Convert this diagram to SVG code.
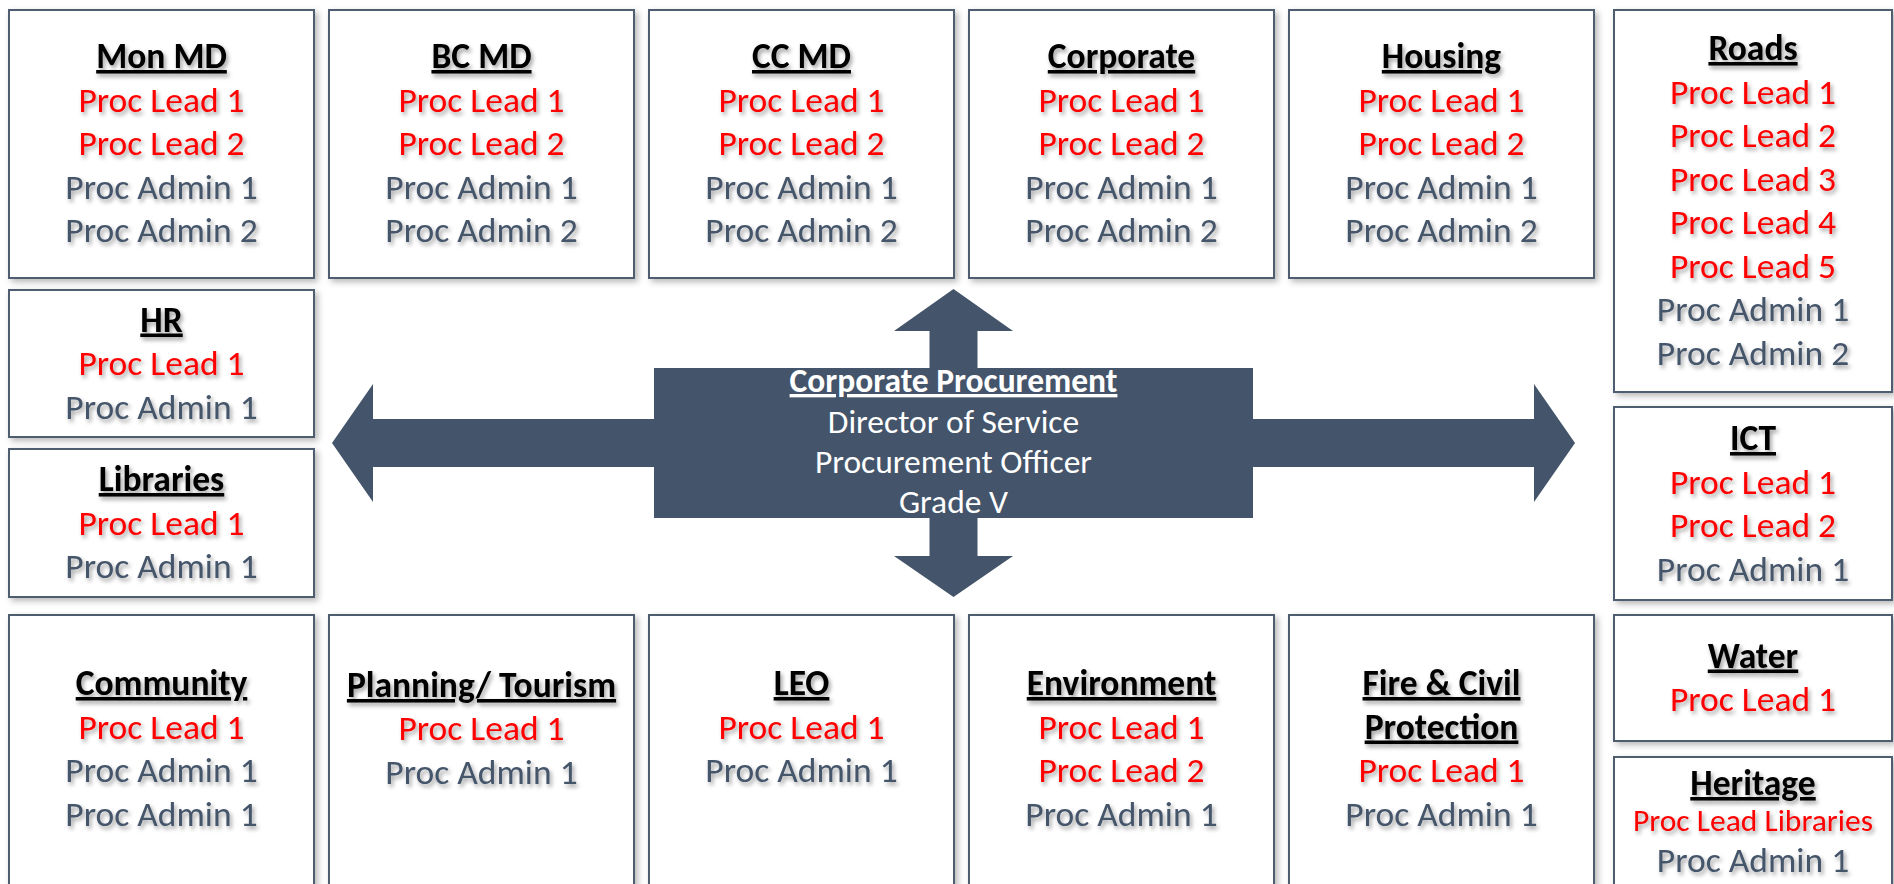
<svg xmlns="http://www.w3.org/2000/svg" width="1894" height="884" viewBox="0 0 1894 884">
  <defs>
    <filter id="boxShadow" x="-10%" y="-10%" width="125%" height="125%">
      <feDropShadow dx="3" dy="3" stdDeviation="3" flood-color="#000" flood-opacity="0.28"/>
    </filter>
    <filter id="textShadow" x="-10%" y="-10%" width="125%" height="130%">
      <feDropShadow dx="2" dy="3" stdDeviation="2" flood-color="#000" flood-opacity="0.38"/>
    </filter>
  </defs>
  <style>
    .box { fill: #ffffff; stroke: #4f5d70; stroke-width: 2; filter: url(#boxShadow); }
    text { font-family: Carlito, Lato, "Open Sans", sans-serif; font-size: 35.5px; text-anchor: middle; }
    .hd { font-weight: bold; fill: #000000; text-decoration: underline; }
    .lead { fill: #ff0000; }
    .adm { fill: #44546a; }
    .small { font-size: 31.5px; }
    .lbl { filter: url(#textShadow); }
    .arrow { fill: #44546a; }
    .core { fill: #ffffff; font-size: 33.5px; }
    .core-hd { font-weight: bold; text-decoration: underline; }
  </style>

  <rect width="1894" height="884" fill="#ffffff"/>

  <!-- four-way arrow radiating from the central unit -->
  <g id="connectors">
    <path class="arrow" d="M332,443 L373,384 L373,419 L655,419 L655,467 L373,467 L373,502 Z"/>
    <path class="arrow" d="M1575,443 L1534,384 L1534,419 L1252,419 L1252,467 L1534,467 L1534,502 Z"/>
    <path class="arrow" d="M953.5,289 L1013,331 L977.5,331 L977.5,369 L929.5,369 L929.5,331 L894,331 Z"/>
    <path class="arrow" d="M953.5,597 L1013,556 L977.5,556 L977.5,517 L929.5,517 L929.5,556 L894,556 Z"/>
  </g>

  <g id="corporate-procurement">
    <rect class="arrow" x="654" y="368" width="599" height="150"/>
    <text class="core core-hd" x="953.5" y="392">Corporate Procurement</text>
    <text class="core" x="953.5" y="433">Director of Service</text>
    <text class="core" x="953.5" y="473">Procurement Officer</text>
    <text class="core" x="953.5" y="513">Grade V</text>
  </g>

  <!-- top row -->
  <g id="mon-md">
    <rect class="box" x="9" y="10" width="305" height="268"/>
    <g class="lbl">
      <text class="hd" x="161.5" y="68">Mon MD</text>
      <text class="lead" x="161.5" y="111.5">Proc Lead 1</text>
      <text class="lead" x="161.5" y="155">Proc Lead 2</text>
      <text class="adm" x="161.5" y="198.5">Proc Admin 1</text>
      <text class="adm" x="161.5" y="242">Proc Admin 2</text>
    </g>
  </g>

  <g id="bc-md">
    <rect class="box" x="329" y="10" width="305" height="268"/>
    <g class="lbl">
      <text class="hd" x="481.5" y="68">BC MD</text>
      <text class="lead" x="481.5" y="111.5">Proc Lead 1</text>
      <text class="lead" x="481.5" y="155">Proc Lead 2</text>
      <text class="adm" x="481.5" y="198.5">Proc Admin 1</text>
      <text class="adm" x="481.5" y="242">Proc Admin 2</text>
    </g>
  </g>

  <g id="cc-md">
    <rect class="box" x="649" y="10" width="305" height="268"/>
    <g class="lbl">
      <text class="hd" x="801.5" y="68">CC MD</text>
      <text class="lead" x="801.5" y="111.5">Proc Lead 1</text>
      <text class="lead" x="801.5" y="155">Proc Lead 2</text>
      <text class="adm" x="801.5" y="198.5">Proc Admin 1</text>
      <text class="adm" x="801.5" y="242">Proc Admin 2</text>
    </g>
  </g>

  <g id="corporate">
    <rect class="box" x="969" y="10" width="305" height="268"/>
    <g class="lbl">
      <text class="hd" x="1121.5" y="68">Corporate</text>
      <text class="lead" x="1121.5" y="111.5">Proc Lead 1</text>
      <text class="lead" x="1121.5" y="155">Proc Lead 2</text>
      <text class="adm" x="1121.5" y="198.5">Proc Admin 1</text>
      <text class="adm" x="1121.5" y="242">Proc Admin 2</text>
    </g>
  </g>

  <g id="housing">
    <rect class="box" x="1289" y="10" width="305" height="268"/>
    <g class="lbl">
      <text class="hd" x="1441.5" y="68">Housing</text>
      <text class="lead" x="1441.5" y="111.5">Proc Lead 1</text>
      <text class="lead" x="1441.5" y="155">Proc Lead 2</text>
      <text class="adm" x="1441.5" y="198.5">Proc Admin 1</text>
      <text class="adm" x="1441.5" y="242">Proc Admin 2</text>
    </g>
  </g>

  <!-- right column -->
  <g id="roads">
    <rect class="box" x="1614" y="10" width="278" height="382"/>
    <g class="lbl">
      <text class="hd" x="1753" y="60">Roads</text>
      <text class="lead" x="1753" y="103.5">Proc Lead 1</text>
      <text class="lead" x="1753" y="147">Proc Lead 2</text>
      <text class="lead" x="1753" y="190.5">Proc Lead 3</text>
      <text class="lead" x="1753" y="234">Proc Lead 4</text>
      <text class="lead" x="1753" y="277.5">Proc Lead 5</text>
      <text class="adm" x="1753" y="321">Proc Admin 1</text>
      <text class="adm" x="1753" y="364.5">Proc Admin 2</text>
    </g>
  </g>

  <g id="ict">
    <rect class="box" x="1614" y="407" width="278" height="193"/>
    <g class="lbl">
      <text class="hd" x="1753" y="450">ICT</text>
      <text class="lead" x="1753" y="493.5">Proc Lead 1</text>
      <text class="lead" x="1753" y="537">Proc Lead 2</text>
      <text class="adm" x="1753" y="580.5">Proc Admin 1</text>
    </g>
  </g>

  <g id="water">
    <rect class="box" x="1614" y="615" width="278" height="126"/>
    <g class="lbl">
      <text class="hd" x="1753" y="667.5">Water</text>
      <text class="lead" x="1753" y="711">Proc Lead 1</text>
    </g>
  </g>

  <g id="heritage">
    <rect class="box" x="1614" y="757" width="278" height="140"/>
    <g class="lbl">
      <text class="hd" x="1753" y="795">Heritage</text>
      <text class="lead small" x="1753" y="831">Proc Lead Libraries</text>
      <text class="adm" x="1753" y="872">Proc Admin 1</text>
    </g>
  </g>

  <!-- left column -->
  <g id="hr">
    <rect class="box" x="9" y="290" width="305" height="147"/>
    <g class="lbl">
      <text class="hd" x="161.5" y="331.5">HR</text>
      <text class="lead" x="161.5" y="375">Proc Lead 1</text>
      <text class="adm" x="161.5" y="418.5">Proc Admin 1</text>
    </g>
  </g>

  <g id="libraries">
    <rect class="box" x="9" y="449" width="305" height="148"/>
    <g class="lbl">
      <text class="hd" x="161.5" y="491">Libraries</text>
      <text class="lead" x="161.5" y="534.5">Proc Lead 1</text>
      <text class="adm" x="161.5" y="578">Proc Admin 1</text>
    </g>
  </g>

  <!-- bottom row -->
  <g id="community">
    <rect class="box" x="9" y="615" width="305" height="272"/>
    <g class="lbl">
      <text class="hd" x="161.5" y="695">Community</text>
      <text class="lead" x="161.5" y="738.5">Proc Lead 1</text>
      <text class="adm" x="161.5" y="782">Proc Admin 1</text>
      <text class="adm" x="161.5" y="825.5">Proc Admin 1</text>
    </g>
  </g>

  <g id="planning-tourism">
    <rect class="box" x="329" y="615" width="305" height="272"/>
    <g class="lbl">
      <text class="hd" x="481.5" y="697">Planning/ Tourism</text>
      <text class="lead" x="481.5" y="740">Proc Lead 1</text>
      <text class="adm" x="481.5" y="783.5">Proc Admin 1</text>
    </g>
  </g>

  <g id="leo">
    <rect class="box" x="649" y="615" width="305" height="272"/>
    <g class="lbl">
      <text class="hd" x="801.5" y="695">LEO</text>
      <text class="lead" x="801.5" y="738.5">Proc Lead 1</text>
      <text class="adm" x="801.5" y="782">Proc Admin 1</text>
    </g>
  </g>

  <g id="environment">
    <rect class="box" x="969" y="615" width="305" height="272"/>
    <g class="lbl">
      <text class="hd" x="1121.5" y="695">Environment</text>
      <text class="lead" x="1121.5" y="738.5">Proc Lead 1</text>
      <text class="lead" x="1121.5" y="782">Proc Lead 2</text>
      <text class="adm" x="1121.5" y="825.5">Proc Admin 1</text>
    </g>
  </g>

  <g id="fire-civil-protection">
    <rect class="box" x="1289" y="615" width="305" height="272"/>
    <g class="lbl">
      <text class="hd" x="1441.5" y="695">Fire &amp; Civil</text>
      <text class="hd" x="1441.5" y="738.5">Protection</text>
      <text class="lead" x="1441.5" y="782">Proc Lead 1</text>
      <text class="adm" x="1441.5" y="825.5">Proc Admin 1</text>
    </g>
  </g>
</svg>
